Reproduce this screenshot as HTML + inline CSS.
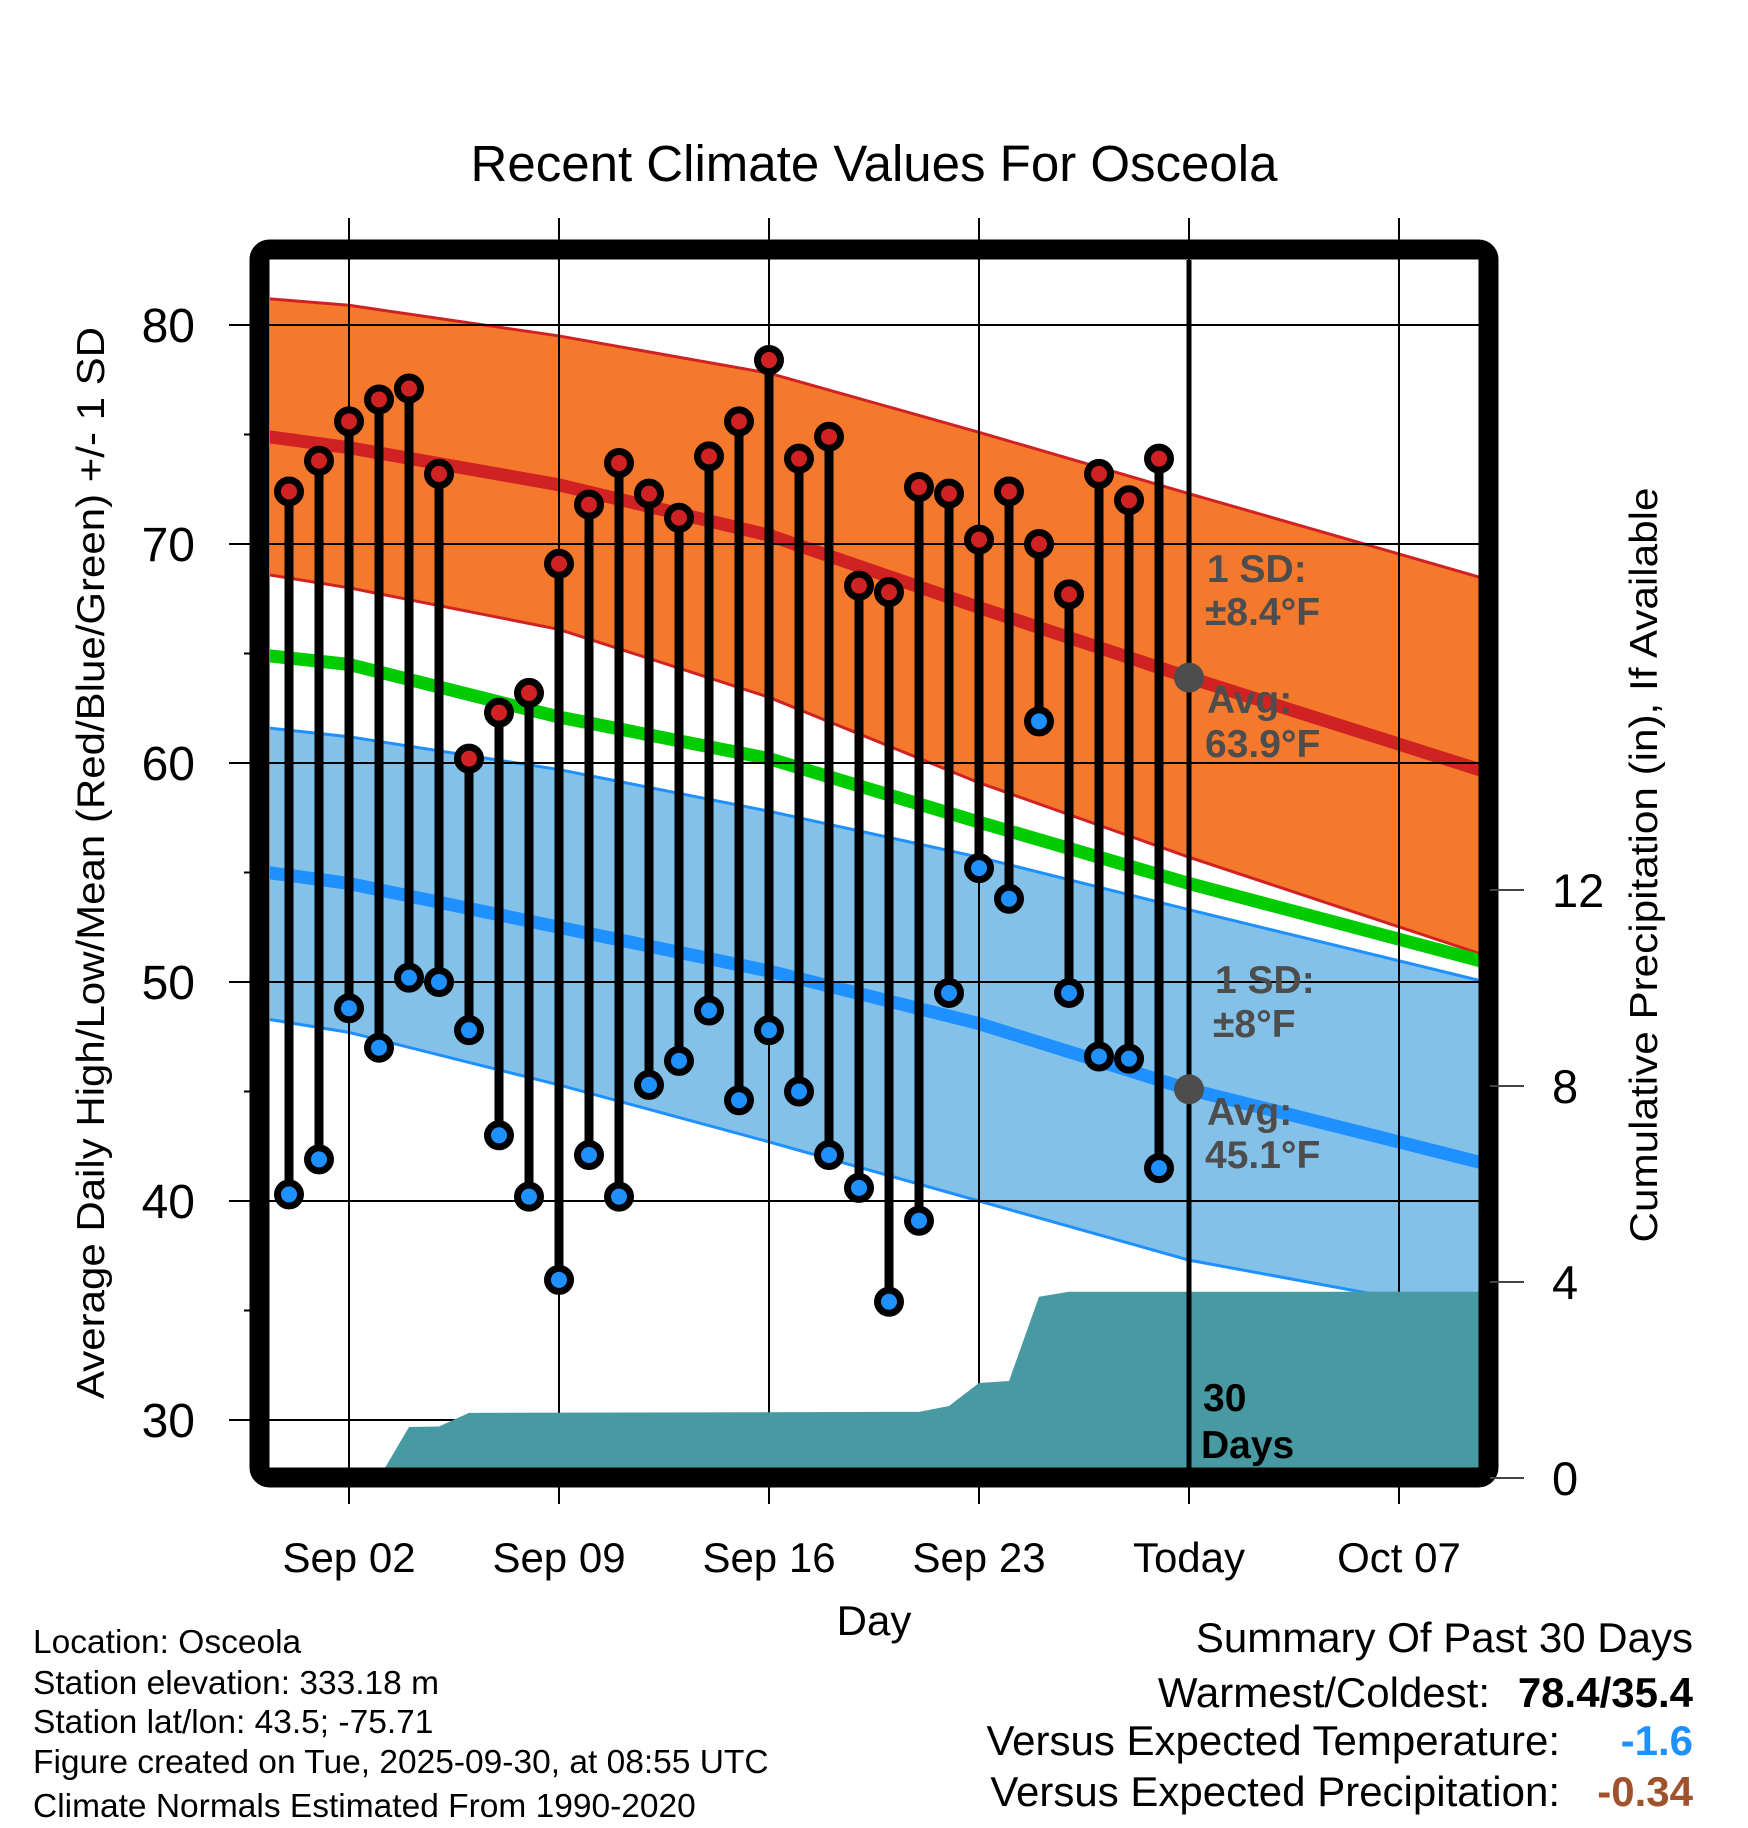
<!DOCTYPE html>
<html><head><meta charset="utf-8"><style>
html,body{margin:0;padding:0;background:#fff;}
svg{display:block;font-family:"Liberation Sans",Arial,sans-serif;}
</style></head><body>
<svg id="chart" width="1748" height="1828" viewBox="0 0 1748 1828" xmlns="http://www.w3.org/2000/svg">
<defs><clipPath id="plotclip"><rect x="270" y="260" width="1213" height="1209"/></clipPath></defs>
<text x="874" y="181" font-size="51" text-anchor="middle">Recent Climate Values For Osceola</text>
<g id="bands" clip-path="url(#plotclip)"></g>
<g id="grid"></g>
<g id="precip" clip-path="url(#plotclip)"></g>
<g id="marks"></g>
<rect x="259.5" y="249.5" width="1229" height="1228" rx="10" fill="none" stroke="#000" stroke-width="20"/>
<g id="axes"></g>
<g font-weight="bold" font-size="39" fill="#4d4d4d">
<text x="1207" y="582">1 SD:</text>
<text x="1205" y="625">±8.4°F</text>
<text x="1207" y="713">Avg:</text>
<text x="1205" y="757">63.9°F</text>
<text x="1215" y="993">1 SD:</text>
<text x="1213" y="1037">±8°F</text>
<text x="1207" y="1125">Avg:</text>
<text x="1205" y="1168">45.1°F</text>
<text x="1203" y="1411" fill="#000">30</text>
<text x="1201" y="1458" fill="#000">Days</text>
</g>
<text x="874" y="1635" font-size="42" text-anchor="middle">Day</text>
<text transform="translate(104,863) rotate(-90)" font-size="39" text-anchor="middle" textLength="1072" lengthAdjust="spacingAndGlyphs">Average Daily High/Low/Mean (Red/Blue/Green) +/- 1 SD</text>
<text transform="translate(1657,865) rotate(-90)" font-size="39" text-anchor="middle" textLength="755" lengthAdjust="spacingAndGlyphs">Cumulative Precipitation (in), If Available</text>
<g font-size="33.5">
<text x="33" y="1653">Location: Osceola</text>
<text x="33" y="1694">Station elevation: 333.18 m</text>
<text x="33" y="1733">Station lat/lon: 43.5; -75.71</text>
<text x="33" y="1773">Figure created on Tue, 2025-09-30, at 08:55 UTC</text>
<text x="33" y="1817">Climate Normals Estimated From 1990-2020</text>
</g>
<g font-size="42" text-anchor="end">
<text x="1693" y="1652">Summary Of Past 30 Days</text>
<text x="1490" y="1707">Warmest/Coldest:</text>
<text x="1693" y="1707" font-weight="bold">78.4/35.4</text>
<text x="1560" y="1755">Versus Expected Temperature:</text>
<text x="1693" y="1755" font-weight="bold" fill="#1e90ff">-1.6</text>
<text x="1560" y="1806">Versus Expected Precipitation:</text>
<text x="1693" y="1806" font-weight="bold" fill="#a0522d">-0.34</text>
</g>
</svg>
<script>
// days relative to Aug 31 (index 0)
const highs=[72.4,73.8,75.6,76.6,77.1,73.2,60.2,62.3,63.2,69.1,71.8,73.7,72.3,71.2,74.0,75.6,78.4,73.9,74.9,68.1,67.8,72.6,72.3,70.2,72.4,70.0,67.7,73.2,72.0,73.9];
const lows=[40.3,41.9,48.8,47.0,50.2,50.0,47.8,43.0,40.2,36.4,42.1,40.2,45.3,46.4,48.7,44.6,47.8,45.0,42.1,40.6,35.4,39.1,49.5,55.2,53.8,61.9,49.5,46.6,46.5,41.5];
const normDays=[-0.7,2,9,16,23,30,39.9];
const highUpper=[81.2,80.9,79.5,77.8,75.1,72.3,68.4];
const highAvg=[74.9,74.4,72.7,70.4,67.1,63.9,59.6];
const highLower=[68.6,68.0,66.1,63.0,59.1,55.7,51.2];
const meanAvg=[64.9,64.5,62.1,60.2,57.3,54.5,50.9];
const lowUpper=[61.6,61.2,59.7,57.8,55.7,53.3,50.0];
const lowAvg=[55.0,54.5,52.5,50.5,48.1,45.1,41.7];
const lowLower=[48.3,47.7,45.3,42.7,40.0,37.3,34.8];
const precipDays=[3,4,5,6,21,22,23,24,25,26,29,39.9];
const precipVals=[0,1.04,1.05,1.33,1.35,1.47,1.94,1.98,3.7,3.8,3.8,3.8];
const xTickDays=[2,9,16,23,30,37];
const xTickLabels=["Sep 02","Sep 09","Sep 16","Sep 23","Today","Oct 07"];
const yTicks=[30,40,50,60,70,80];
const yMinor=[35,45,55,65,75];
const pTicks=[0,4,8,12];
const todayDay=30, todayHigh=63.9, todayLow=45.1;

const NS="http://www.w3.org/2000/svg";
const X=d=>289+30*d;
const Y=t=>325+(80-t)*21.9;
const P=p=>1478-p*49;
function mk(tag,attrs,parent){const e=document.createElementNS(NS,tag);for(const k in attrs)e.setAttribute(k,attrs[k]);parent.appendChild(e);return e;}
const bands=document.getElementById('bands'),grid=document.getElementById('grid'),prec=document.getElementById('precip'),marks=document.getElementById('marks'),axes=document.getElementById('axes');
function pts(arr){return normDays.map((d,i)=>X(d)+','+Y(arr[i]));}
function band(up,lo,fill,edge,name){
  const p=mk('polygon',{points:pts(up).concat(pts(lo).reverse()).join(' '),fill:fill},bands);
  
  
  [up,lo].forEach(a=>{const l=mk('polyline',{points:pts(a).join(' '),fill:'none',stroke:edge,'stroke-width':3},bands);
    
    });
}
function line(arr,color,name){const l=mk('polyline',{points:pts(arr).join(' '),fill:'none',stroke:color,'stroke-width':13},bands);
  
  }
band(highUpper,highLower,'#f5792c','#d02222','high-sd-band');
band(lowUpper,lowLower,'#84c1e8','#1e90ff','low-sd-band');
line(highAvg,'#d02222','high-avg-line');
line(meanAvg,'#00cc00','mean-avg-line');
line(lowAvg,'#1e90ff','low-avg-line');
// grid
xTickDays.forEach((d,i)=>{const l=mk('line',{x1:X(d),x2:X(d),y1:218,y2:1504,stroke:'#000','stroke-width':2},grid);
  
  
  const t=mk('text',{x:X(d),y:1572,'font-size':42,'text-anchor':'middle'},axes);t.textContent=xTickLabels[i];
  
  });
yTicks.forEach(v=>{const l=mk('line',{x1:229,x2:1483,y1:Y(v),y2:Y(v),stroke:'#000','stroke-width':2},grid);
  
  
  const t=mk('text',{x:195,y:Y(v)+17,'font-size':48,'text-anchor':'end'},axes);t.textContent=v;
  
  });
yMinor.forEach(v=>{const l=mk('line',{x1:244,x2:262,y1:Y(v),y2:Y(v),stroke:'#000','stroke-width':2},axes);
  
  });
pTicks.forEach(v=>{const l=mk('line',{x1:1490,x2:1524,y1:P(v),y2:P(v),stroke:'#444','stroke-width':2},axes);
  
  
  const t=mk('text',{x:1552,y:P(v)+17,'font-size':47},axes);t.textContent=v;
  
  });
// precip
const pp=[X(precipDays[0])+','+P(0)].concat(precipDays.map((d,i)=>X(d)+','+P(precipVals[i]))).concat([X(precipDays[precipDays.length-1])+','+P(0)]);
const pa=mk('polygon',{points:pp.join(' '),fill:'#4799a2'},prec);


// today line
const tl=mk('line',{x1:X(todayDay),x2:X(todayDay),y1:260,y2:1470,stroke:'#000','stroke-width':5},marks);


[todayHigh,todayLow].forEach(v=>{const c=mk('circle',{cx:X(todayDay),cy:Y(v),r:15,fill:'#4d4d4d'},marks);
  
  });
// stems & markers
highs.forEach((h,i)=>{const s=mk('line',{x1:X(i),x2:X(i),y1:Y(h),y2:Y(lows[i]),stroke:'#000','stroke-width':9},marks);
  
  });
highs.forEach((h,i)=>{
  const a=mk('circle',{cx:X(i),cy:Y(h),r:11.5,fill:'#d02222',stroke:'#000','stroke-width':7},marks);
  
  
  const b=mk('circle',{cx:X(i),cy:Y(lows[i]),r:11.5,fill:'#1e90ff',stroke:'#000','stroke-width':7},marks);
  
  });
</script>
</body></html>
